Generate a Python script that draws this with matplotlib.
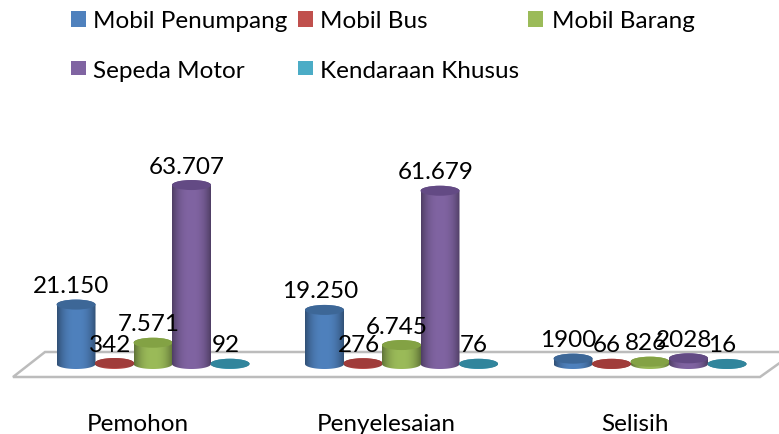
import numpy as np
import matplotlib.pyplot as plt
from matplotlib.colors import to_rgb
from matplotlib.patches import Polygon, Rectangle, Ellipse, PathPatch
from matplotlib.path import Path

plt.rcParams['font.family'] = ['Lato', 'DejaVu Sans']

# data
categories = ['Pemohon', 'Penyelesaian', 'Selisih']
series_names = ['Mobil Penumpang', 'Mobil Bus', 'Mobil Barang', 'Sepeda Motor', 'Kendaraan Khusus']
mobil_penumpang = [21150, 19250, 1900]
mobil_bus = [342, 276, 66]
mobil_barang = [7571, 6745, 826]
sepeda_motor = [63707, 61679, 2028]
kendaraan_khusus = [92, 76, 16]
label_penumpang = ['21.150', '19.250', '1900']
label_bus = ['342', '276', '66']
label_barang = ['7.571', '6.745', '826']
label_motor = ['63.707', '61.679', '2028']
label_khusus = ['92', '76', '16']

series = [mobil_penumpang, mobil_bus, mobil_barang, sepeda_motor, kendaraan_khusus]
labels = [label_penumpang, label_bus, label_barang, label_motor, label_khusus]
colors = ['#4f81bd', '#c0504d', '#9bbb59', '#8064a2', '#4bacc6']
tops = ['#3d6797', '#a03c3a', '#83a244', '#634a84', '#31859c']

W, H = 779, 435
fig = plt.figure(figsize=(W / 100, H / 100), dpi=100)
ax = fig.add_axes([0, 0, 1, 1])
ax.axis('off')

# one category = 248.5 px, one unit of value = 1/356 px
cat_px = 248.5
unit = 356
ax.set_xlim(-153 / cat_px, (W - 153) / cat_px)
ax.set_ylim(-70 * unit, 365 * unit)


def fx(x):
    return x / W


def fy(y):
    return 1 - y / H


# floor
floor = Polygon([(fx(13), fy(378)), (fx(760), fy(378)), (fx(795), fy(353)), (fx(45), fy(353))],
                closed=True, facecolor='white', edgecolor='#bcbcbc', linewidth=1.8,
                transform=fig.transFigure, zorder=1)
ax.add_patch(floor)

bar_w = 39 / cat_px
step = 38.5 / cat_px
ell_h = 10 * unit
t = np.linspace(0, np.pi, 40)
shade = np.abs(np.linspace(-1, 1, 64)) ** 2.5


def cylinder(xc, val, col, top, z):
    rgb = np.array(to_rgb(col))
    grad = (rgb * (1 - 0.38 * shade)[:, None])[None, :, :]
    rx = bar_w / 2
    ry = ell_h / 2
    # body outline: lower arc, then upper arc back
    low = np.c_[xc - rx * np.cos(t), -ry * np.sin(t)]
    up = np.c_[xc + rx * np.cos(t), val + ry * np.sin(t)]
    verts = np.vstack([low, up, low[:1]])
    clip = PathPatch(Path(verts), transform=ax.transData, facecolor='none', edgecolor='none')
    ax.add_patch(clip)
    im = ax.imshow(grad, extent=[xc - rx, xc + rx, -ry, val + ry], aspect='auto',
                   interpolation='bilinear', zorder=z)
    im.set_clip_path(clip)
    ax.add_patch(Ellipse((xc, val), bar_w, ell_h, facecolor=top, edgecolor='none', zorder=z + 0.1))


for c in range(len(categories)):
    for s in range(len(series)):
        x = c + (s - 2) * step
        val = series[s][c]
        cylinder(x, val, colors[s], tops[s], 2 + s * 0.2)
        ax.annotate(labels[s][c], (x, val), xytext=(-4.5 * 0.72, 19 * 0.72), textcoords='offset points',
                    ha='center', va='center', fontsize=17.5, color='black', zorder=5)
    ax.annotate(categories[c], (c, 0), xytext=(-15 * 0.72, -60 * 0.72), textcoords='offset points',
                ha='center', va='center', fontsize=17.5, color='black', zorder=5)

ax.set_xlim(-153 / cat_px, (W - 153) / cat_px)
ax.set_ylim(-70 * unit, 365 * unit)

# legend
leg_x = [71, 298, 528, 71, 298]
leg_y = [20, 20, 20, 69, 69]
leg_h = [16, 16, 16, 14, 14]
for i in range(len(series_names)):
    fig.add_artist(Rectangle((fx(leg_x[i]), fy(leg_y[i] + leg_h[i] / 2)), 15 / W, leg_h[i] / H,
                             facecolor=colors[i], edgecolor='none', transform=fig.transFigure))
    fig.text(fx(leg_x[i] + 22 + (i == 2) * 2), fy(leg_y[i] + 2), series_names[i], ha='left', va='center',
             fontsize=17.5, color='black')

fig.savefig('out.png', dpi=100)
